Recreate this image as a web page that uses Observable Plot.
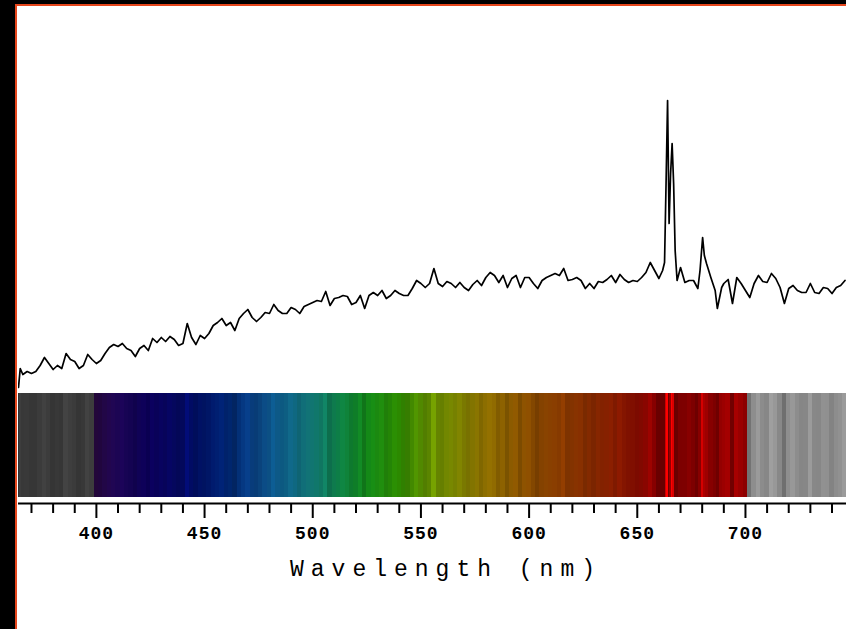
<!DOCTYPE html>
<html>
<head>
<meta charset="utf-8">
<script src="https://cdn.jsdelivr.net/npm/d3@7"></script>
<script src="https://cdn.jsdelivr.net/npm/@observablehq/plot@0.6"></script>
<style>
  html, body { margin: 0; padding: 0; background: #000; }
  body { width: 846px; height: 629px; overflow: hidden; position: relative; }
  #paper { position: absolute; left: 15px; top: 4px; right: 0; bottom: 0; background: #fff;
           border-top: 2px solid #e5461c; border-left: 2px solid #e5461c; }
  #chart { position: absolute; left: 0; top: 0; }
  g[aria-label="text"] text { letter-spacing: 7px; }
  g[aria-label="x-axis tick label"] text { letter-spacing: 1px; }
</style>
</head>
<body>
<div id="paper"></div>
<div id="chart"></div>
<script>
// Spectrum samples (wavelength in nm, relative intensity counts)
const wavelengths = [
  364, 364.8, 366, 368, 370, 372, 374, 376, 378, 380, 382, 384, 386, 388, 390, 392, 394, 396, 398,
  400, 402, 404, 406, 408, 410, 412, 414, 416, 418, 420, 422, 424, 426, 428, 430, 432, 434, 436, 438,
  440, 442, 444, 446, 448, 450, 452, 454, 456, 458, 460, 462, 464, 466, 468, 470, 472, 474, 476, 478,
  480, 482, 484, 486, 488, 490, 492, 494, 496, 498, 500, 502, 504, 506, 508, 510, 512, 514, 516, 518,
  520, 522, 524, 526, 528, 530, 532, 534, 536, 538, 540, 542, 544, 546, 548, 550, 552, 554, 556, 558,
  560, 562, 564, 566, 568, 570, 572, 574, 576, 578, 580, 582, 584, 586, 588, 590, 592, 594, 596, 598,
  600, 602, 604, 606, 608, 610, 612, 614, 616, 618, 620, 622, 624, 626, 628, 630, 632, 634, 636, 638,
  640, 642, 644, 646, 648, 650, 652, 654, 656, 658, 660, 661.7, 662.6, 663.3, 664, 664.7, 665.4, 666.1,
  666.8, 667.5, 668.4, 670, 672, 674, 676, 678, 679, 680.2, 681, 682, 684, 686, 687, 689,
  690, 692, 694, 696, 698, 700, 702, 704, 706, 708, 710, 712, 714, 716, 718,
  720, 722, 724, 726, 728, 730, 732, 734, 736, 738, 740, 742, 744, 746
];
const intensities = [
  13, 32, 26, 29, 27, 29, 35, 43, 37, 31, 35, 32, 47, 41, 39, 32, 35, 46, 41,
  37, 40, 47, 53, 56, 54, 57, 52, 50, 44, 52, 55, 50, 62, 58, 63, 59, 64, 61, 55,
  57, 77, 63, 56, 65, 62, 67, 75, 78, 82, 75, 78, 70, 82, 87, 91, 83, 79, 83, 88,
  87, 96, 90, 87, 87, 93, 91, 87, 94, 96, 98, 100, 99, 109, 95, 102, 103, 105, 104, 96,
  98, 105, 92, 105, 108, 105, 110, 102, 105, 110, 107, 105, 105, 112, 120, 117, 113, 117, 132, 117,
  114, 119, 117, 113, 118, 113, 110, 116, 120, 115, 123, 128, 125, 118, 125, 113, 122, 125, 113, 123,
  123, 117, 112, 120, 123, 125, 127, 125, 132, 120, 121, 123, 120, 112, 117, 112, 119, 118, 121, 125,
  118, 126, 121, 118, 120, 119, 123, 128, 138, 130, 122, 130, 138, 217, 300, 177, 227, 257,
  217, 150, 120, 133, 118, 120, 120, 112, 130, 163, 145, 137, 123, 110, 92, 113,
  117, 121, 97, 123, 117, 110, 103, 117, 125, 119, 118, 127, 122, 113, 97,
  112, 115, 110, 108, 108, 117, 108, 107, 113, 112, 107, 113, 115, 120
];

// Colour of the spectral strip (wavelength stops -> colours)
const bandStops  = [364, 399.9, 400, 410, 425, 445, 462, 475, 488, 500, 512, 525, 540, 552, 565, 578, 592, 605, 625, 645, 658, 700.4, 700.5, 747];
const bandColors = ["#383838", "#3c3c3c", "#26083f", "#1c0552", "#0a0058", "#000c64", "#00266f", "#0a4482", "#0e6288", "#117470", "#0d7c46", "#128618", "#2c8800", "#588800", "#788600", "#886e00", "#885800", "#864400", "#842e00", "#841400", "#860000", "#920000", "#8a8a8a", "#8e8e8e"];

// Axis ticks
const majorTicks = [400, 450, 500, 550, 600, 650, 700];
const minorTicks = [370, 380, 390, 410, 420, 430, 440, 460, 470, 480, 490, 510, 520, 530, 540, 560, 570, 580, 590, 610, 620, 630, 640, 660, 670, 680, 690, 710, 720, 730, 740];
const axisTitle = "Wavelength (nm)";

const xDomain = [364, 746.7];
const yDomain = [-103, 394];

const n = wavelengths.length;
const spectrum = wavelengths.map((w, i) => ({w, v: intensities[i]}));

const bandScale = Plot.scale({color: {type: "linear", domain: bandStops, range: bandColors, interpolate: "rgb"}});
const band = spectrum.map((d, i) => {
  const lo = Math.max(0, i - 3), hi = Math.min(n - 1, i + 3);
  let s = 0; for (let j = lo; j <= hi; j++) s += intensities[j];
  const dev = d.v - s / (hi - lo + 1);
  const k = Math.max(-0.7, Math.min(2, dev / 26));
  return {
    x1: i ? (d.w + wavelengths[i - 1]) / 2 : xDomain[0],
    x2: i < n - 1 ? (d.w + wavelengths[i + 1]) / 2 : xDomain[1],
    fill: d3.rgb(bandScale.apply(d.w)).brighter(k).formatHex()
  };
});

const chart = Plot.plot({
  width: 846,
  height: 629,
  marginLeft: 18,
  marginRight: 0,
  marginTop: 6,
  marginBottom: 126,
  x: {domain: xDomain},
  y: {domain: yDomain, axis: null},
  style: {background: "transparent", fontFamily: "'Liberation Mono', 'DejaVu Sans Mono', monospace", color: "#000"},
  marks: [
    Plot.rect(band, {x1: "x1", x2: "x2", fill: "fill", insetTop: 387, insetBottom: 6, insetLeft: 0, insetRight: 0, shapeRendering: "crispEdges"}),
    Plot.line(spectrum, {x: "w", y: "v", stroke: "#000", strokeWidth: 1.7, clip: true}),
    Plot.ruleY([yDomain[0]], {stroke: "#000", strokeWidth: 1.8}),
    Plot.axisX({ticks: minorTicks, tickSize: 10, tickFormat: () => "", strokeWidth: 2, label: null}),
    Plot.axisX({ticks: majorTicks, tickSize: 15, tickPadding: 8, strokeWidth: 2, fontSize: 18, fontWeight: "bold", label: null, tickFormat: d => String(d)}),
    Plot.text([axisTitle], {frameAnchor: "bottom", dy: 65, dx: 13.5, fontSize: 23, lineAnchor: "middle", fill: "#000"})
  ]
});
document.getElementById("chart").appendChild(chart);
</script>
</body>
</html>
